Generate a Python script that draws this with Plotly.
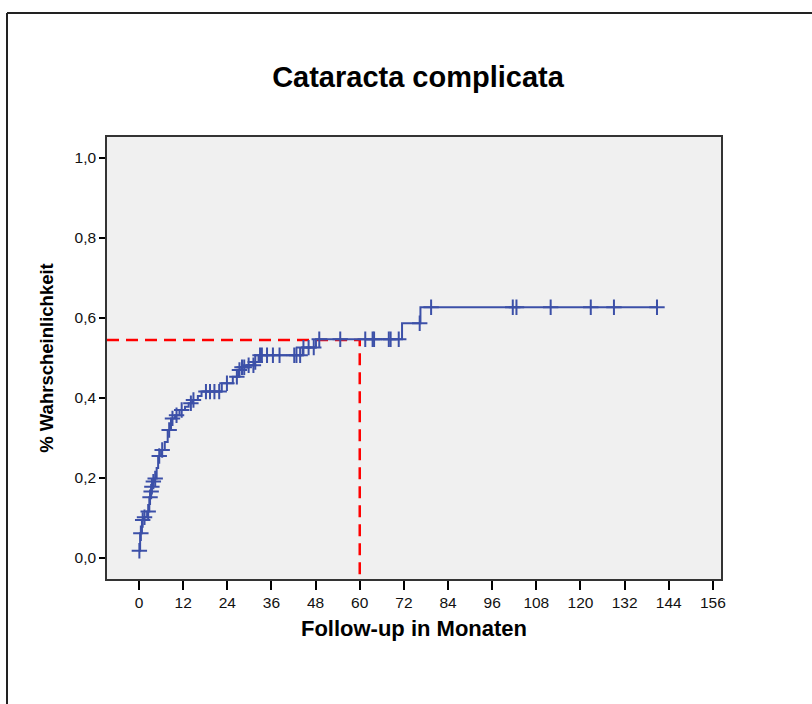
import plotly.graph_objects as go
import numpy as np

# Kaplan-Meier style cumulative incidence step function (event times, value after step)
step_t = [0, 0.3, 0.8, 1.3, 2.2, 2.8, 3.2, 3.4, 3.7, 4.2, 4.8, 5.2, 6.0, 7.0, 7.8, 8.7,
          9.8, 11.0, 12.5, 13.5, 14.5, 16.0, 17.0, 22.5, 25.5, 27.0, 27.8, 29.5, 31.4,
          32.5, 44.5, 48.1, 71.5, 76.5]
step_v = [0.018, 0.062, 0.095, 0.102, 0.116, 0.152, 0.166, 0.178, 0.191, 0.199, 0.225,
          0.255, 0.270, 0.290, 0.320, 0.349, 0.357, 0.370, 0.378, 0.387, 0.395, 0.405,
          0.416, 0.437, 0.453, 0.470, 0.477, 0.482, 0.490, 0.507, 0.526, 0.547, 0.587,
          0.627]
end_t = 140.8

# censored observations (months)
censor_t = [0.1, 0.5, 1.0, 1.5, 2.5, 3.0, 3.3, 3.5, 3.9, 4.4, 5.5, 6.3, 8.2, 9.1, 10.2,
            11.6, 14.1, 14.8, 18.2, 19.3, 20.5, 21.8, 23.9, 26.6, 27.3, 28.0, 28.6, 29.8,
            31.1, 31.6, 32.9, 33.4, 34.8, 36.4, 38.2, 42.2, 42.8, 43.8, 44.7, 46.1, 47.5,
            49.0, 54.7, 61.5, 63.5, 63.9, 67.9, 68.4, 70.6, 76.3, 79.4, 101.6, 102.6,
            111.9, 122.8, 129.1, 140.8]

# reference line: 5-year value
ref_t = 60
ref_v = 0.545

x_ticks = [0, 12, 24, 36, 48, 60, 72, 84, 96, 108, 120, 132, 144, 156]
y_ticks = [0.0, 0.2, 0.4, 0.6, 0.8, 1.0]
y_ticktext = ["0,0", "0,2", "0,4", "0,6", "0,8", "1,0"]

title = "Cataracta complicata"
x_title = "Follow-up in Monaten"
y_title = "% Wahrscheinlichkeit"

line_x = step_t + [end_t]
line_y = step_v + [step_v[-1]]

def value_at(t):
    idx = np.searchsorted(step_t, t, side="right") - 1
    return step_v[max(idx, 0)]

censor_v = [value_at(t) for t in censor_t]

BLUE = "#3C50A8"
FONT = "Liberation Sans, Arial, sans-serif"

fig = go.Figure()
# red dashed reference lines
fig.add_trace(go.Scatter(x=[-8.7, ref_t, ref_t], y=[ref_v, ref_v, -0.0525], mode="lines",
                         line=dict(color="#FF0000", width=2.5, dash="12px,7px"),
                         hoverinfo="skip", showlegend=False))
fig.add_trace(go.Scatter(x=line_x, y=line_y, mode="lines", line_shape="hv",
                         line=dict(color=BLUE, width=2), showlegend=False))
fig.add_trace(go.Scatter(x=censor_t, y=censor_v, mode="markers",
                         marker=dict(symbol="cross-thin", size=11,
                                     line=dict(color=BLUE, width=2)),
                         showlegend=False))

L, R, T, B = 107, 721, 137, 579
W, H = 812, 704
pw, ph = R - L, B - T

def px(x):
    return (x - L) / pw

def py(y):
    return (B - y) / ph

fig.update_layout(
    width=W, height=H,
    margin=dict(l=L, r=W - R, t=T, b=H - B),
    paper_bgcolor="white", plot_bgcolor="#F0F0F0",
    font=dict(family=FONT, color="#111111", size=15),
    title=dict(text="<b>" + title + "</b>", x=(418) / W, xanchor="center",
               y=1 - 77 / H, yanchor="middle", font=dict(size=29, color="black", family=FONT)),
    xaxis=dict(range=[-8.7, 158.2], tickvals=x_ticks, ticks="outside", ticklen=9,
               tickwidth=1.5, tickcolor="black", showline=True, linecolor="#333333",
               linewidth=1.5, mirror=True, showgrid=False, zeroline=False,
               tickfont=dict(size=15.5, color="#111111"),
               title=dict(text="<b>" + x_title + "</b>", font=dict(size=22, color="black"),
                          standoff=10)),
    yaxis=dict(range=[-0.0525, 1.0525], tickvals=y_ticks, ticktext=y_ticktext,
               ticks="outside", ticklen=6, tickwidth=1.5, tickcolor="black",
               showline=True, linecolor="#333333", linewidth=1.5, mirror=True,
               showgrid=False, zeroline=False, tickfont=dict(size=15.5, color="#111111"),
               title=dict(text="<b>" + y_title + "</b>", font=dict(size=18.5, color="black"),
                          standoff=16)),
    shapes=[
        dict(type="line", xref="paper", yref="paper", x0=px(7), x1=px(830), y0=py(13), y1=py(13),
             line=dict(color="#222222", width=2)),
        dict(type="line", xref="paper", yref="paper", x0=px(7), x1=px(7), y0=py(13), y1=py(720),
             line=dict(color="#222222", width=2)),
    ],
)

fig.write_html("out.html")
